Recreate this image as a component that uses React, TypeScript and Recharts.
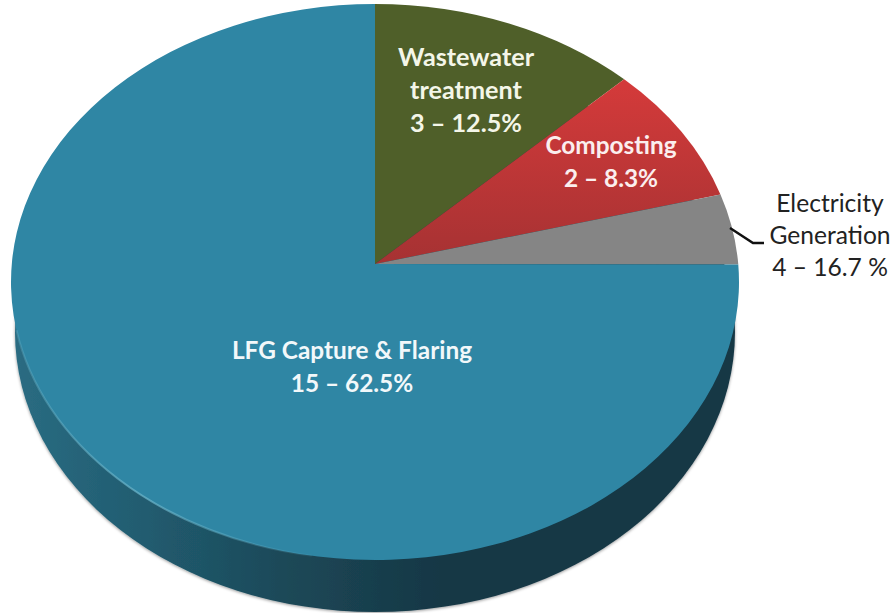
// Tilted pie: LFG project types, drawn on an ellipse with a dark side wall
import { PieChart, Pie } from 'recharts';

// ── Data ──────────────────────────────────────────────────────────────────────
const categories = ['Wastewater treatment', 'Composting', 'Electricity Generation', 'LFG Capture & Flaring'];
// slice sizes as they appear on the picture (the printed percentages differ from them)
const sliceShares = [12.0, 7.9, 4.1, 76.0];
const labelLines = [
  ['Wastewater', 'treatment', '3 – 12.5%'],
  ['Composting', '2 – 8.3%'],
  ['Electricity', 'Generation', '4 – 16.7 %'],
  ['LFG Capture & Flaring', '15 – 62.5%'],
];
const sliceFills = ['#4f5f29', 'url(#redFace)', '#858585', '#2f86a4'];
const sideShare = [100];

const tableData = categories.map((name, i) => ({ name, value: sliceShares[i], fill: sliceFills[i] }));
const sideData = sideShare.map((value) => ({ name: 'side', value }));

// ── Geometry ──────────────────────────────────────────────────────────────────
const W = 893;
const H = 613;
const CX = 375;
const CY = 282;
const RY = 278;
const RX = 364;
const APEX_LIFT = 18; // the pie's tip sits above the ellipse centre (perspective)

const LABEL_POS = [
  { x: 466, y: 56, dy: 33, size: 25.2, color: '#f4f6e8', bold: true },
  { x: 611, y: 144, dy: 33, size: 24.4, color: '#fbeeee', bold: true },
  { x: 830, y: 202, dy: 32, size: 24.6, color: '#222222', bold: false },
  { x: 352, y: 349, dy: 33, size: 24.4, color: '#f2f8fa', bold: true },
];

// ── Shapes ────────────────────────────────────────────────────────────────────
function FaceSlice(props: any) {
  const { cx, cy, outerRadius, startAngle, endAngle, fill, index } = props;
  const rx = outerRadius * (RX / RY);
  const rad = Math.PI / 180;
  const px = (a: number) => cx + rx * Math.cos(a * rad);
  const py = (a: number) => cy - outerRadius * Math.sin(a * rad);
  const large = Math.abs(endAngle - startAngle) > 180 ? 1 : 0;
  const d = `M${cx},${cy - APEX_LIFT} L${px(startAngle)},${py(startAngle)} A${rx},${outerRadius} 0 ${large} 1 ${px(endAngle)},${py(endAngle)} Z`;
  // thin highlight along the lower-left edge of the top face
  const rim = `M${px(-170)},${py(-170)} A${rx},${outerRadius} 0 0 0 ${px(-100)},${py(-100)}`;
  return (
    <g>
      <path d={d} fill={fill} />
      {index === 3 && <path d={rim} fill="none" stroke="url(#rim)" strokeWidth={2} />}
    </g>
  );
}

function SideWall(props: any) {
  const { cx, cy, outerRadius } = props;
  return <ellipse cx={cx} cy={cy} rx={outerRadius * (360 / 280)} ry={outerRadius} fill="url(#sideFace)" filter="url(#wallShadow)" />;
}

function SliceLabel(props: any) {
  const { index } = props;
  const pos = LABEL_POS[index];
  return (
    <g>
      {index === 2 && <polyline points="730,228 753,243 764,243" fill="none" stroke="#111111" strokeWidth={2.5} />}
      <text
        fontFamily="Lato, 'Open Sans', sans-serif"
        fontSize={pos.size}
        fontWeight={pos.bold ? 700 : 400}
        fill={pos.color}
        textAnchor="middle"
      >
        {labelLines[index].map((line, i) => (
          <tspan key={line} x={pos.x} y={pos.y + i * pos.dy} dominantBaseline="central">
            {line}
          </tspan>
        ))}
      </text>
    </g>
  );
}

// ── Chart ─────────────────────────────────────────────────────────────────────
export default function App() {
  return (
    <div style={{ position: 'absolute', left: 0, top: 0, width: W, height: H, background: '#fff' }}>
      <PieChart width={W} height={H} margin={{ top: 0, right: 0, bottom: 0, left: 0 }}>
        <defs>
          <linearGradient id="sideFace" gradientUnits="userSpaceOnUse" x1="15" y1="0" x2="440" y2="0">
            <stop offset="0%" stopColor="#2a6c82" />
            <stop offset="30%" stopColor="#215c70" />
            <stop offset="65%" stopColor="#1c4857" />
            <stop offset="100%" stopColor="#163745" />
          </linearGradient>
          <linearGradient id="redFace" gradientUnits="userSpaceOnUse" x1="0" y1="85" x2="0" y2="262">
            <stop offset="0%" stopColor="#d33a3a" />
            <stop offset="100%" stopColor="#a63233" />
          </linearGradient>
          <linearGradient id="rim" gradientUnits="userSpaceOnUse" x1="20" y1="340" x2="340" y2="560">
            <stop offset="0%" stopColor="#6fb8cd" stopOpacity={0.3} />
            <stop offset="50%" stopColor="#6fb8cd" stopOpacity={0.7} />
            <stop offset="100%" stopColor="#6fb8cd" stopOpacity={0} />
          </linearGradient>
          <filter id="wallShadow" x="-5%" y="-5%" width="110%" height="110%">
            <feDropShadow dx="0" dy="1" stdDeviation="1.5" floodColor="#000" floodOpacity={0.4} />
          </filter>
        </defs>
        <Pie
          data={sideData}
          dataKey="value"
          cx={CX}
          cy={332}
          outerRadius={280}
          startAngle={90}
          endAngle={-270}
          stroke="none"
          shape={SideWall}
          isAnimationActive={false}
        />
        <Pie
          data={tableData}
          dataKey="value"
          cx={CX}
          cy={CY}
          outerRadius={RY}
          startAngle={90}
          endAngle={-270}
          paddingAngle={0}
          stroke="none"
          shape={FaceSlice}
          label={SliceLabel}
          labelLine={false}
          isAnimationActive={false}
        />
      </PieChart>
    </div>
  );
}
